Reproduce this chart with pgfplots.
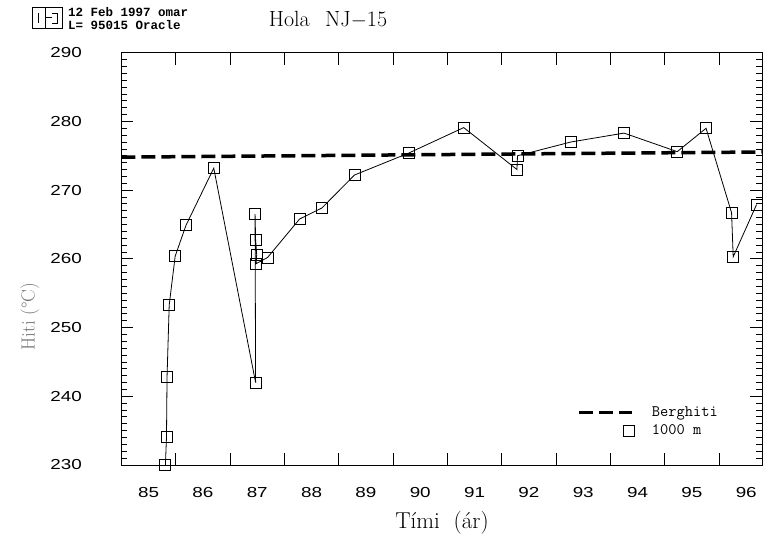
\documentclass[border=0pt]{standalone}
\usepackage{fontspec}
\usepackage{pgfplots}
\pgfplotsset{compat=1.18}
\newfontfamily\tickfont[FakeStretch=1.3]{Liberation Sans}
\newfontfamily\stampfont{Liberation Mono}

\pgfplotsset{
    dashleg/.style={legend image code/.code={
        \draw[##1] (0bp,0bp) -- (53bp,0bp);
        \path[draw=none] (0bp,0bp) -- (73bp,0bp);}},
    markleg/.style={legend image code/.code={
        \draw[##1] plot coordinates {(50bp,0bp)};
        \path[draw=none] (0bp,0bp) -- (73bp,0bp);}},
}

\begin{document}
\begin{tikzpicture}
\useasboundingbox (-121.4bp,-75bp) rectangle (643.6bp,465bp);
\begin{axis}[
    scale only axis,
    width=640.6bp, height=412.3bp,
    xmin=85, xmax=96.79,
    ymin=230, ymax=290,
    clip=false,
    axis line style={line width=1bp},
    tick align=inside,
    tick style={black, line width=0.8bp},
    major tick length=12bp,
    minor tick length=6bp,
    xtick={86,87,88,89,90,91,92,93,94,95,96},
    xticklabels={},
    extra x ticks={85.5,86.5,87.5,88.5,89.5,90.5,91.5,92.5,93.5,94.5,95.5,96.5},
    extra x tick labels={85,86,87,88,89,90,91,92,93,94,95,96},
    extra x tick style={major tick length=0pt},
    ytick={230,240,250,260,270,280,290},
    minor y tick num=9,
    /pgf/number format/assume math mode=true,
    xticklabel style={font=\tickfont\fontsize{14.5bp}{14.5bp}\selectfont, yshift=-19bp},
    yticklabel style={font=\tickfont\fontsize{14.5bp}{14.5bp}\selectfont},
    yticklabel shift=36bp,
    xlabel={Tími\hspace{0.6em}(ár)},
    xlabel style={at={(axis description cs:0.5005,-0.1407)}, anchor=center,
        font=\fontsize{23bp}{23bp}\selectfont},
    ylabel={Hiti\ (°C)},
    ylabel style={at={(axis description cs:-0.1427,0.36)}, anchor=center,
        font=\fontsize{19bp}{19bp}\selectfont, text=black!55},
    legend cell align=left,
    legend style={at={(axis description cs:0.711,0.143)}, anchor=north west,
        draw=none, fill=none, inner sep=0pt, row sep=5bp,
        nodes={font=\ttfamily\fontsize{16bp}{16bp}\selectfont, inner sep=0pt,
            text height=10bp, text depth=3bp}},
]
% Berghiti
\addplot[black, line width=3.5bp, dash pattern=on 14bp off 6bp, dashleg]
    coordinates {(85,274.8) (96.79,275.55)};
\addlegendentry{Berghiti}
% 1000 m
\addplot[black, line width=0.8bp, mark=square, mark size=5.5bp,
    mark options={solid, line width=0.9bp}, markleg]
    coordinates {
    (85.81,230.0) (85.83,234.1) (85.84,242.8) (85.88,253.3) (85.99,260.4)
    (86.19,264.9) (86.70,273.2) (87.47,242.0) (87.46,266.5) (87.47,262.8)
    (87.49,260.6) (87.48,259.3) (87.69,260.2) (88.28,265.8) (88.69,267.4)
    (89.29,272.2) (90.29,275.4) (91.30,279.1) (92.28,273.0) (92.29,275.0)
    (93.27,277.0) (94.25,278.3) (95.23,275.6) (95.76,279.0) (96.23,266.7)
    (96.26,260.3) (96.69,267.9)
    };
\addlegendentry{1000 m}
\end{axis}
% title and stamp
\node[font=\fontsize{22bp}{22bp}\selectfont] at (206.6bp,445bp) {Hola\hspace{0.7em}NJ$-$15};
\begin{scope}[line width=0.7bp]
\draw (-89.4bp,437bp) rectangle (-59.4bp,458bp);
\draw (-76bp,437bp) -- (-76bp,458bp);
\draw (-83bp,442bp) -- (-83bp,452bp);
\draw (-76bp,447.5bp) -- (-69bp,447.5bp);
\draw (-69bp,452bp) -- (-64bp,452bp) -- (-64bp,442bp) -- (-69bp,442bp);
\end{scope}
\node[anchor=west, inner sep=0pt, font=\stampfont\bfseries\fontsize{12.5bp}{12.5bp}\selectfont]
    at (-53.4bp,453bp) {12 Feb 1997 omar};
\node[anchor=west, inner sep=0pt, font=\stampfont\bfseries\fontsize{12.5bp}{12.5bp}\selectfont]
    at (-53.4bp,440bp) {L= 95015 Oracle};
\end{tikzpicture}
\end{document}
